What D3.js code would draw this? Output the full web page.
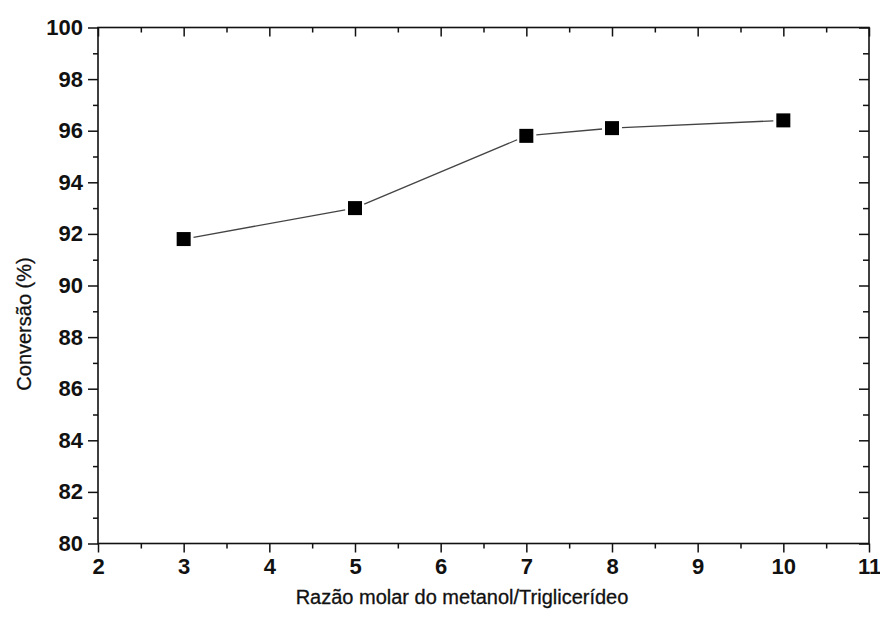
<!DOCTYPE html>
<html>
<head>
<meta charset="utf-8">
<script src="https://cdn.jsdelivr.net/npm/d3@7"></script>
<style>
  body { margin: 0; background: #fff; }
  svg text { font-family: "Liberation Sans", Arial, sans-serif; fill: #111; }
</style>
</head>
<body>
<svg id="chart" width="880" height="619"></svg>
<script>
const ratios = [3, 5, 7, 8, 10];
const conversion = [91.8, 93.0, 95.8, 96.1, 96.4];
const xTicks = [2, 3, 4, 5, 6, 7, 8, 9, 10, 11];
const yTicks = [80, 82, 84, 86, 88, 90, 92, 94, 96, 98, 100];
const xTitle = "Razão molar do metanol/Triglicerídeo";
const yTitle = "Conversão (%)";

const svg = d3.select("#chart");
const plotLeft = 98, plotRight = 869, plotTop = 27.5, plotBottom = 543.5;

const x = d3.scaleLinear().domain([2, 11]).range([plotLeft, plotRight]);
const y = d3.scaleLinear().domain([80, 100]).range([plotBottom, plotTop]);

const xMinor = d3.range(2.5, 11, 1);
const yMinor = d3.range(81, 100, 2);

// frame
svg.append("rect")
  .attr("x", plotLeft).attr("y", plotTop)
  .attr("width", plotRight - plotLeft).attr("height", plotBottom - plotTop)
  .attr("fill", "none").attr("stroke", "#111").attr("stroke-width", 1.6);

function styleAxis(g) {
  g.select(".domain").remove();
  g.selectAll("line").attr("stroke", "#111").attr("stroke-width", 1.5);
}

// bottom axis (outward ticks)
svg.append("g").attr("transform", `translate(0,${plotBottom})`)
  .call(d3.axisBottom(x).tickValues(xTicks).tickSize(9).tickPadding(6).tickFormat(d3.format("d")))
  .call(styleAxis)
  .call(g => g.selectAll("text").attr("font-size", 22).attr("font-weight", "bold").attr("fill", "#111"));
svg.append("g").attr("transform", `translate(0,${plotBottom})`)
  .call(d3.axisBottom(x).tickValues(xMinor).tickSize(5).tickFormat(""))
  .call(styleAxis);

// top axis (inward ticks)
svg.append("g").attr("transform", `translate(0,${plotTop})`)
  .call(d3.axisBottom(x).tickValues(xTicks).tickSize(9).tickFormat(""))
  .call(styleAxis);
svg.append("g").attr("transform", `translate(0,${plotTop})`)
  .call(d3.axisBottom(x).tickValues(xMinor).tickSize(5).tickFormat(""))
  .call(styleAxis);

// left axis (outward ticks)
svg.append("g").attr("transform", `translate(${plotLeft},0)`)
  .call(d3.axisLeft(y).tickValues(yTicks).tickSize(10).tickPadding(5).tickFormat(d3.format("d")))
  .call(styleAxis)
  .call(g => g.selectAll("text").attr("font-size", 22).attr("font-weight", "bold").attr("fill", "#111"));
svg.append("g").attr("transform", `translate(${plotLeft},0)`)
  .call(d3.axisLeft(y).tickValues(yMinor).tickSize(5).tickFormat(""))
  .call(styleAxis);

// right axis (inward ticks)
svg.append("g").attr("transform", `translate(${plotRight},0)`)
  .call(d3.axisLeft(y).tickValues(yTicks).tickSize(10).tickFormat(""))
  .call(styleAxis);
svg.append("g").attr("transform", `translate(${plotRight},0)`)
  .call(d3.axisLeft(y).tickValues(yMinor).tickSize(6).tickFormat(""))
  .call(styleAxis);

// data
const pts = ratios.map((r, i) => ({ r, v: conversion[i] }));

// line segments with small gaps near the markers
const gap = 10;
for (let i = 0; i < pts.length - 1; i++) {
  const x1 = x(pts[i].r), y1 = y(pts[i].v);
  const x2 = x(pts[i + 1].r), y2 = y(pts[i + 1].v);
  const len = Math.hypot(x2 - x1, y2 - y1);
  const ux = (x2 - x1) / len, uy = (y2 - y1) / len;
  svg.append("line")
    .attr("x1", x1 + ux * gap).attr("y1", y1 + uy * gap)
    .attr("x2", x2 - ux * gap).attr("y2", y2 - uy * gap)
    .attr("stroke", "#444").attr("stroke-width", 1.3);
}

const size = 14;
svg.selectAll(".pt").data(pts).join("rect")
  .attr("class", "pt")
  .attr("x", d => x(d.r) - size / 2)
  .attr("y", d => y(d.v) - size / 2)
  .attr("width", size).attr("height", size)
  .attr("fill", "#000");

// titles
svg.append("text")
  .attr("x", 462).attr("y", 604)
  .attr("text-anchor", "middle")
  .attr("font-size", 20)
  .attr("stroke", "#111").attr("stroke-width", 0.3)
  .text(xTitle);

svg.append("text")
  .attr("transform", "translate(31,324) rotate(-90)")
  .attr("text-anchor", "middle")
  .attr("font-size", 20)
  .attr("stroke", "#111").attr("stroke-width", 0.3)
  .text(yTitle);
</script>
</body>
</html>
